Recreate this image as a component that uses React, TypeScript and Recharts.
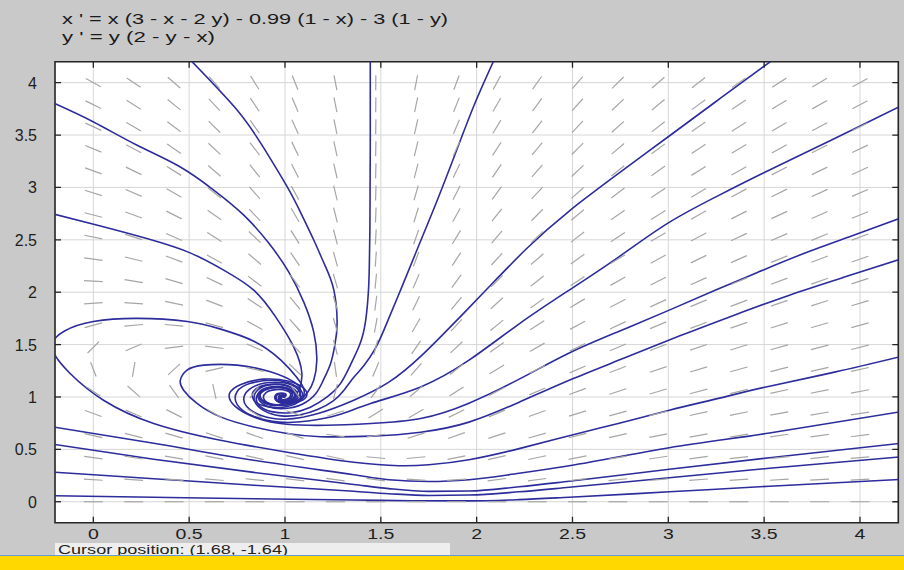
import React from 'react';
import { ComposedChart, Line, Scatter, XAxis, YAxis, CartesianGrid, ReferenceArea } from 'recharts';

// ---------- axes ----------
const X_TICKS = [0, 0.5, 1, 1.5, 2, 2.5, 3, 3.5, 4];
const Y_TICKS = [0, 0.5, 1, 1.5, 2, 2.5, 3, 3.5, 4];
const X_DOMAIN: [number, number] = [-0.2, 4.2];
const Y_DOMAIN: [number, number] = [-0.2, 4.2];

const TITLE_1 = "x ' = x (3 - x - 2 y) - 0.99 (1 - x) - 3 (1 - y)";
const TITLE_2 = "y ' = y (2 - y - x)";
const CURSOR_TEXT = 'Cursor position:  (1.68, -1.64)';

// ---------- direction field (grid + slope dy/dx at each grid point) ----------
const FIELD_X = [0, 0.2105, 0.4211, 0.6316, 0.8421, 1.0526, 1.2632, 1.4737, 1.6842, 1.8947, 2.1053, 2.3158, 2.5263, 2.7368, 2.9474, 3.1579, 3.3684, 3.5789, 3.7895, 4];
const FIELD_Y = [0, 0.2105, 0.4211, 0.6316, 0.8421, 1.0526, 1.2632, 1.4737, 1.6842, 1.8947, 2.1053, 2.3158, 2.5263, 2.7368, 2.9474, 3.1579, 3.3684, 3.5789, 3.7895, 4];
const SLOPE_R00 = [0, 0, 0, 0, 0, 0, 0, 0, 0, 0, 0, 0, 0, 0, 0, 0, 0, 0, 0, 0];
const SLOPE_R01 = [-0.112, -0.125, -0.142, -0.162, -0.188, -0.219, -0.248, -0.246, -0.12, 0.119, 0.24, 0.243, 0.214, 0.184, 0.16, 0.14, 0.124, 0.111, 0.1, 0.092];
const SLOPE_R02 = [-0.244, -0.273, -0.309, -0.351, -0.395, -0.425, -0.384, -0.171, 0.169, 0.377, 0.417, 0.388, 0.345, 0.304, 0.27, 0.241, 0.217, 0.197, 0.18, 0.166];
const SLOPE_R03 = [-0.412, -0.467, -0.532, -0.603, -0.654, -0.598, -0.27, 0.268, 0.588, 0.641, 0.592, 0.523, 0.46, 0.407, 0.363, 0.327, 0.297, 0.271, 0.25, 0.231];
const SLOPE_R04 = [-0.666, -0.78, -0.926, -1.09, -1.151, -0.611, 0.604, 1.12, 1.063, 0.906, 0.766, 0.656, 0.57, 0.503, 0.449, 0.405, 0.369, 0.339, 0.313, 0.29];
const SLOPE_R05 = [-1.199, -1.617, -2.568, -8.13, 2.414, -2.553, 7.06, 2.448, 1.568, 1.172, 0.94, 0.787, 0.678, 0.595, 0.531, 0.48, 0.437, 0.402, 0.372, 0.346];
const SLOPE_R06 = [-4.644, 10.54, 1.672, 0.41, -0.412, -1.722, -12.64, 4.325, 2.091, 1.438, 1.114, 0.917, 0.784, 0.686, 0.61, 0.551, 0.502, 0.462, 0.428, 0.398];
const SLOPE_R07 = [1.799, 0.768, 0.224, -0.225, -0.776, -1.847, -7.13, 6.84, 2.626, 1.704, 1.289, 1.048, 0.889, 0.775, 0.688, 0.621, 0.566, 0.52, 0.482, 0.449];
const SLOPE_R08 = [0.5, 0.154, -0.155, -0.504, -1.011, -2.04, -6.33, 10.1, 3.168, 1.97, 1.463, 1.177, 0.993, 0.863, 0.765, 0.689, 0.628, 0.577, 0.535, 0.498];
const SLOPE_R09 = [0.118, -0.118, -0.374, -0.702, -1.21, -2.253, -6.24, 14.25, 3.716, 2.237, 1.637, 1.307, 1.097, 0.95, 0.841, 0.757, 0.689, 0.633, 0.586, 0.547];
const SLOPE_R10 = [-0.095, -0.297, -0.539, -0.868, -1.394, -2.475, -6.38, 19.46, 4.268, 2.503, 1.811, 1.437, 1.201, 1.037, 0.917, 0.823, 0.749, 0.688, 0.637, 0.594];
const SLOPE_R11 = [-0.247, -0.439, -0.68, -1.019, -1.57, -2.701, -6.63, 25.9, 4.823, 2.77, 1.985, 1.566, 1.304, 1.124, 0.992, 0.89, 0.809, 0.743, 0.687, 0.64];
const SLOPE_R12 = [-0.37, -0.561, -0.807, -1.162, -1.742, -2.93, -6.95, 34.0, 5.381, 3.036, 2.159, 1.695, 1.408, 1.211, 1.066, 0.956, 0.868, 0.796, 0.737, 0.686];
const SLOPE_R13 = [-0.478, -0.671, -0.927, -1.299, -1.91, -3.16, -7.29, 44.0, 5.94, 3.303, 2.333, 1.825, 1.511, 1.297, 1.141, 1.021, 0.927, 0.85, 0.786, 0.732];
const SLOPE_R14 = [-0.575, -0.774, -1.041, -1.432, -2.077, -3.391, -7.66, 56.5, 6.501, 3.569, 2.507, 1.954, 1.614, 1.383, 1.215, 1.087, 0.985, 0.903, 0.835, 0.777];
const SLOPE_R15 = [-0.667, -0.873, -1.152, -1.563, -2.243, -3.624, -8.05, 72.1, 7.064, 3.836, 2.68, 2.083, 1.718, 1.469, 1.289, 1.152, 1.044, 0.956, 0.883, 0.822];
const SLOPE_R16 = [-0.754, -0.968, -1.261, -1.692, -2.407, -3.856, -8.45, 91.9, 7.627, 4.102, 2.855, 2.212, 1.821, 1.555, 1.363, 1.217, 1.102, 1.009, 0.931, 0.866];
const SLOPE_R17 = [-0.838, -1.061, -1.367, -1.82, -2.571, -4.089, -8.85, 117, 8.191, 4.369, 3.028, 2.342, 1.924, 1.641, 1.436, 1.282, 1.16, 1.061, 0.979, 0.911];
const SLOPE_R18 = [-0.919, -1.152, -1.472, -1.947, -2.734, -4.323, -9.26, 151, 8.755, 4.636, 3.202, 2.471, 2.027, 1.727, 1.51, 1.346, 1.217, 1.113, 1.027, 0.955];
const SLOPE_R19 = [-0.999, -1.242, -1.576, -2.073, -2.897, -4.555, -9.67, 195, 9.326, 4.902, 3.376, 2.6, 2.129, 1.812, 1.584, 1.411, 1.275, 1.165, 1.075, 0.999];
const SLOPE_ROWS = [SLOPE_R00, SLOPE_R01, SLOPE_R02, SLOPE_R03, SLOPE_R04, SLOPE_R05, SLOPE_R06, SLOPE_R07, SLOPE_R08, SLOPE_R09,
  SLOPE_R10, SLOPE_R11, SLOPE_R12, SLOPE_R13, SLOPE_R14, SLOPE_R15, SLOPE_R16, SLOPE_R17, SLOPE_R18, SLOPE_R19];

// ---------- solution curves (x, y) ----------
const C1 = [[-0.208, 3.806], [0.001, 3.625], [0.226, 3.405], [0.445, 3.204], [0.628, 2.975], [0.785, 2.736], [0.915, 2.469], [1.02, 2.192], [1.098, 1.905], [1.15, 1.619], [1.166, 1.351], [1.15, 1.16], [1.12, 1.05], [1.07, 0.96], [1.0, 0.92], [0.93, 0.93], [0.89, 0.98], [0.9, 1.04], [0.95, 1.07], [1.01, 1.06], [1.03, 1.02], [1.01, 0.98], [0.98, 0.98], [0.99, 1.01], [1.0, 1.0]];
const C2 = [[-0.208, 2.746], [0.027, 2.636], [0.288, 2.507], [0.508, 2.373], [0.68, 2.211], [0.837, 2.02], [0.952, 1.762], [1.046, 1.476], [1.088, 1.227], [1.072, 1.065], [1.03, 0.97], [0.95, 0.92], [0.88, 0.96], [0.87, 1.04], [0.93, 1.09], [1.01, 1.08], [1.04, 1.03], [1.02, 0.98], [0.98, 0.98], [0.98, 1.01], [1.0, 1.0]];
const C3 = [[0.506, 4.217], [0.75, 3.739], [0.889, 3.377], [1.011, 3.007], [1.083, 2.755], [1.15, 2.498], [1.208, 2.259], [1.255, 2.02], [1.272, 1.702], [1.26, 1.495], [1.238, 1.32], [1.2, 1.16], [1.16, 1.03], [1.09, 0.93], [1.0, 0.89], [0.91, 0.91], [0.86, 0.99], [0.88, 1.07], [0.95, 1.1], [1.02, 1.08], [1.05, 1.02], [1.03, 0.97], [0.99, 0.96], [0.97, 0.99], [0.99, 1.02], [1.0, 1.0]];
const C4 = [[1.445, 4.22], [1.445, 3.8], [1.445, 3.4], [1.444, 3.0], [1.443, 2.6], [1.44, 2.25], [1.435, 2.0], [1.42, 1.72], [1.39, 1.5], [1.34, 1.3], [1.29, 1.13], [1.22, 1.0], [1.13, 0.9], [1.03, 0.85], [0.93, 0.86], [0.87, 0.91], [0.85, 0.99], [0.88, 1.06], [0.94, 1.09], [1.01, 1.08], [1.05, 1.04], [1.05, 0.98], [1.01, 0.95], [0.97, 0.97], [0.97, 1.01], [1.0, 1.0]];
const C5 = [[2.091, 4.217], [1.991, 3.803], [1.896, 3.357], [1.795, 2.88], [1.699, 2.45], [1.603, 2.02], [1.516, 1.638], [1.47, 1.46], [1.412, 1.3], [1.36, 1.19], [1.31, 1.07], [1.25, 0.96], [1.17, 0.88], [1.08, 0.83], [0.98, 0.82], [0.89, 0.87], [0.84, 0.97], [0.86, 1.07], [0.93, 1.12], [1.01, 1.11], [1.06, 1.05], [1.06, 0.98], [1.02, 0.95], [0.98, 0.96], [0.97, 1.0], [1.0, 1.0]];
const C6 = [[3.545, 4.217], [3.274, 3.854], [3.005, 3.491], [2.744, 3.138], [2.483, 2.775], [2.264, 2.422], [2.054, 2.03], [1.887, 1.714], [1.715, 1.399], [1.542, 1.141], [1.359, 0.969], [1.177, 0.845], [1.004, 0.788], [0.88, 0.82], [0.8, 0.91], [0.79, 1.02], [0.85, 1.11], [0.95, 1.14], [1.04, 1.11], [1.08, 1.03], [1.06, 0.96], [1.0, 0.94], [0.96, 0.97], [0.96, 1.02], [1.0, 1.03], [1.0, 1.0]];
const C7 = [[4.207, 3.771], [3.852, 3.453], [3.493, 3.135], [3.246, 2.908], [2.996, 2.657], [2.744, 2.34], [2.483, 2.02], [2.222, 1.698], [1.96, 1.351], [1.708, 1.096], [1.447, 0.938], [1.28, 0.83], [1.12, 0.77], [0.97, 0.76], [0.83, 0.82], [0.75, 0.93], [0.75, 1.05], [0.82, 1.13], [0.94, 1.16], [1.04, 1.12], [1.09, 1.04], [1.07, 0.97], [1.01, 0.94], [0.96, 0.96], [0.95, 1.01], [0.98, 1.03], [1.0, 1.0]];
const C8 = [[4.207, 2.705], [3.956, 2.536], [3.7, 2.364], [3.468, 2.191], [3.247, 2.02], [3.005, 1.829], [2.744, 1.628], [2.483, 1.42], [2.222, 1.17], [1.96, 0.941], [1.708, 0.795], [1.447, 0.747], [1.22, 0.73], [1.01, 0.74], [0.85, 0.8], [0.74, 0.91], [0.71, 1.03], [0.77, 1.12], [0.89, 1.17], [1.02, 1.15], [1.1, 1.08], [1.11, 1.0], [1.06, 0.95], [0.99, 0.94], [0.95, 0.98], [0.96, 1.03], [1.0, 1.03], [1.0, 1.0]];
const C9 = [[4.207, 2.313], [3.919, 2.144], [3.632, 1.972], [3.344, 1.781], [3.057, 1.581], [2.77, 1.371], [2.483, 1.16], [2.222, 0.95], [1.96, 0.76], [1.708, 0.664], [1.447, 0.626], [1.185, 0.621], [1.011, 0.651], [0.837, 0.714], [0.663, 0.81], [0.541, 0.938], [0.471, 1.065], [0.454, 1.16], [0.489, 1.256], [0.576, 1.304], [0.75, 1.304], [0.924, 1.24], [1.046, 1.144], [1.081, 1.065], [1.06, 0.98], [0.99, 0.93], [0.91, 0.94], [0.87, 1.01], [0.9, 1.07], [0.97, 1.09], [1.03, 1.05], [1.03, 0.99], [0.99, 0.97], [0.97, 1.0], [1.0, 1.0]];
const C10 = [[4.207, 1.383], [3.867, 1.237], [3.528, 1.103], [3.267, 0.989], [3.005, 0.874], [2.744, 0.75], [2.483, 0.63], [2.222, 0.507], [1.96, 0.401], [1.751, 0.353], [1.595, 0.344], [1.359, 0.377], [1.011, 0.473], [0.663, 0.587], [0.315, 0.747], [0.053, 0.969], [-0.121, 1.224], [-0.215, 1.47], [-0.15, 1.63], [0.0, 1.72], [0.23, 1.75], [0.49, 1.72], [0.66, 1.65], [0.84, 1.53], [0.98, 1.35], [1.06, 1.19], [1.1, 1.06], [1.07, 0.95], [0.98, 0.9], [0.88, 0.92], [0.83, 1.0], [0.86, 1.09], [0.95, 1.12], [1.03, 1.09], [1.06, 1.02], [1.03, 0.97], [0.98, 0.97], [0.97, 1.01], [1.0, 1.0]];
// lower family, listed left to right
const C11 = [[-0.208, 0.714], [0.315, 0.558], [0.837, 0.396], [1.359, 0.258], [1.542, 0.21], [1.751, 0.193], [1.96, 0.21], [2.222, 0.272], [2.483, 0.344], [3.005, 0.516], [3.528, 0.656], [4.207, 0.858]];
const C12 = [[-0.208, 0.549], [0.315, 0.406], [0.837, 0.28], [1.359, 0.165], [1.542, 0.125], [1.751, 0.099], [1.96, 0.102], [2.222, 0.143], [2.483, 0.196], [3.005, 0.31], [3.528, 0.42], [4.207, 0.556]];
const C13 = [[-0.208, 0.282], [0.315, 0.22], [0.837, 0.158], [1.359, 0.1], [1.542, 0.077], [1.751, 0.06], [1.96, 0.064], [2.222, 0.095], [2.483, 0.138], [3.005, 0.229], [3.528, 0.32], [4.207, 0.428]];
const C14 = [[-0.208, 0.057], [0.315, 0.043], [0.837, 0.029], [1.359, 0.016], [1.66, 0.01], [1.96, 0.008], [2.222, 0.02], [2.483, 0.043], [3.005, 0.095], [3.528, 0.148], [4.207, 0.212]];
const SPIRAL_CURVES = [C1, C2, C3, C4, C5, C6, C7, C8, C9, C10];
const LOWER_CURVES = [C11, C12, C13, C14];

// ---------- layout ----------
const W = 904;
const H = 570;
const PLOT_L = 55;
const PLOT_T = 61.7;
const PLOT_R = 898.3;
const PLOT_B = 522.7;
const PX_X = (PLOT_R - PLOT_L) / (X_DOMAIN[1] - X_DOMAIN[0]);
const PX_Y = (PLOT_B - PLOT_T) / (Y_DOMAIN[1] - Y_DOMAIN[0]);
const FONT = 'Liberation Sans, Arial, Helvetica, sans-serif';
const CURVE_COLOR = '#2c2c9c';

const fieldData: { x: number; y: number; s: number }[] = [];
FIELD_Y.forEach((y, j) => {
  FIELD_X.forEach((x, k) => {
    fieldData.push({ x, y, s: SLOPE_ROWS[j][k] });
  });
});
const toPts = (c: number[][]) => c.map(([x, y]) => ({ x, y }));
const spiralData = SPIRAL_CURVES.map(toPts);
const lowerData = LOWER_CURVES.map(toPts);

const bottomTicks = X_TICKS.map((x) => ({ x, y: Y_DOMAIN[0] }));
const topTicks = X_TICKS.map((x) => ({ x, y: Y_DOMAIN[1] }));
const leftTicks = Y_TICKS.map((y) => ({ x: X_DOMAIN[0], y }));
const rightTicks = Y_TICKS.map((y) => ({ x: X_DOMAIN[1], y }));

const Dash = (props: any) => {
  const { cx, cy, payload } = props;
  if (cx == null || cy == null) return <g />;
  let vx = PX_X;
  let vy = -payload.s * PX_Y;
  const n = Math.hypot(vx, vy);
  vx /= n;
  vy /= n;
  const len = 19 - 4 * Math.abs(vy);
  return (
    <line x1={cx - (vx * len) / 2} y1={cy - (vy * len) / 2} x2={cx + (vx * len) / 2} y2={cy + (vy * len) / 2}
      stroke="#a6a6a6" strokeWidth={1.2} />
  );
};

const tickShape = (dx: number, dy: number) => (props: any) => {
  const { cx, cy } = props;
  if (cx == null || cy == null) return <g />;
  return <line x1={cx} y1={cy} x2={cx + dx} y2={cy + dy} stroke="#222" strokeWidth={1.3} />;
};

const XTick = (props: any) => {
  const { x, y, payload } = props;
  return (
    <text x={x} y={y + 16} textAnchor="middle" fontSize={15} fontFamily={FONT} fill="#1e1e1e"
      transform={`translate(${x} 0) scale(1.3 1) translate(${-x} 0)`}>
      {String(payload.value)}
    </text>
  );
};

const YTick = (props: any) => {
  const { x, y, payload } = props;
  return (
    <text x={x - 18} y={y + 6} textAnchor="end" fontSize={16} fontFamily={FONT} fill="#1e1e1e">
      {String(payload.value)}
    </text>
  );
};

export default function App() {
  return (
    <div style={{ position: 'absolute', left: 0, top: 0, width: W, height: H, background: '#c9c9c9', overflow: 'hidden' }}>
      <div style={{ position: 'absolute', left: 0, top: 0 }}>
        <ComposedChart width={W} height={H}
          margin={{ top: PLOT_T, right: W - PLOT_R, bottom: H - PLOT_B - 1, left: PLOT_L - 1 }}>
          <CartesianGrid stroke="#d6d6d6" fill="#ffffff" strokeWidth={1} />
          <XAxis type="number" dataKey="x" domain={X_DOMAIN} allowDataOverflow ticks={X_TICKS} interval={0}
            height={1} tickSize={0} tickMargin={0} axisLine={false} tickLine={false} tick={XTick} />
          <YAxis type="number" dataKey="y" domain={Y_DOMAIN} allowDataOverflow ticks={Y_TICKS} interval={0}
            width={1} tickSize={0} tickMargin={0} axisLine={false} tickLine={false} tick={YTick} />
          <Scatter data={fieldData} dataKey="y" shape={Dash} isAnimationActive={false} />
          {spiralData.map((d, i) => (
            <Line key={`s${i}`} data={d} dataKey="y" type="natural" stroke={CURVE_COLOR} strokeWidth={1.6}
              dot={false} activeDot={false} isAnimationActive={false} />
          ))}
          {lowerData.map((d, i) => (
            <Line key={`l${i}`} data={d} dataKey="y" type="monotoneX" stroke={CURVE_COLOR} strokeWidth={1.6}
              dot={false} activeDot={false} isAnimationActive={false} />
          ))}
          <ReferenceArea x1={X_DOMAIN[0]} x2={X_DOMAIN[1]} y1={Y_DOMAIN[0]} y2={Y_DOMAIN[1]}
            fill="none" fillOpacity={0} stroke="#262626" strokeWidth={1.6} ifOverflow="visible" />
          <Scatter data={bottomTicks} dataKey="y" shape={tickShape(0, -6)} isAnimationActive={false} />
          <Scatter data={topTicks} dataKey="y" shape={tickShape(0, 6)} isAnimationActive={false} />
          <Scatter data={leftTicks} dataKey="y" shape={tickShape(6, 0)} isAnimationActive={false} />
          <Scatter data={rightTicks} dataKey="y" shape={tickShape(-6, 0)} isAnimationActive={false} />
        </ComposedChart>
      </div>
      <svg width={W} height={H} style={{ position: 'absolute', left: 0, top: 0, pointerEvents: 'none' }}>
        <text x={62} y={23.6} fontSize={15} fontFamily={FONT} fill="#1a1a1a" textLength={386} lengthAdjust="spacingAndGlyphs">{TITLE_1}</text>
        <text x={62} y={42} fontSize={15} fontFamily={FONT} fill="#1a1a1a" textLength={153} lengthAdjust="spacingAndGlyphs">{TITLE_2}</text>
      </svg>
      <div style={{ position: 'absolute', left: 55, top: 542.5, width: 395, height: 12.5, background: '#eeeeee', overflow: 'hidden' }}>
        <svg width={395} height={13} style={{ position: 'absolute', left: 0, top: 0 }}>
          <text x={3} y={10.5} fontSize={12} fontFamily={FONT} fill="#222" textLength={230} lengthAdjust="spacingAndGlyphs">{CURSOR_TEXT}</text>
        </svg>
      </div>
      <div style={{ position: 'absolute', left: 0, top: 555, width: W, height: 15, background: '#ffd800', borderTop: '1px solid #6c9ad0', boxSizing: 'border-box' }} />
    </div>
  );
}
